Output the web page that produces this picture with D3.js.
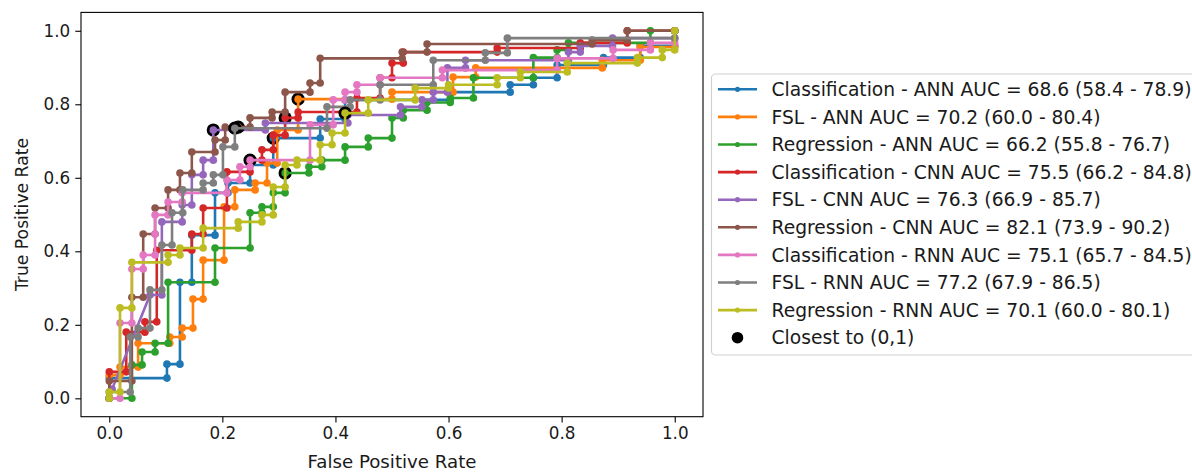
<!DOCTYPE html>
<html>
<head>
<meta charset="utf-8">
<script src="https://cdn.jsdelivr.net/npm/d3@7"></script>
<style>
  html, body { margin: 0; padding: 0; background: #fff; }
  svg { display: block; font-family: "DejaVu Sans", sans-serif; }
</style>
</head>
<body>
<svg id="chart" width="1192" height="472"></svg>
<script>
// ---------- data ----------
const seriesNames = [
  "Classification - ANN AUC = 68.6 (58.4 - 78.9)",
  "FSL - ANN AUC = 70.2 (60.0 - 80.4)",
  "Regression - ANN AUC = 66.2 (55.8 - 76.7)",
  "Classification - CNN AUC = 75.5 (66.2 - 84.8)",
  "FSL - CNN AUC = 76.3 (66.9 - 85.7)",
  "Regression - CNN AUC = 82.1 (73.9 - 90.2)",
  "Classification - RNN AUC = 75.1 (65.7 - 84.5)",
  "FSL - RNN AUC = 77.2 (67.9 - 86.5)",
  "Regression - RNN AUC = 70.1 (60.0 - 80.1)"
];
const closestLabel = "Closest to (0,1)";
const colors = ["#1f77b4","#ff7f0e","#2ca02c","#d62728","#9467bd","#8c564b","#e377c2","#7f7f7f","#bcbd22"];
const xTicks = [0, 0.2, 0.4, 0.6, 0.8, 1.0];
const yTicks = [0, 0.2, 0.4, 0.6, 0.8, 1.0];

const fprClsAnn = [0,0,0.102,0.102,0.125,0.125,0.146,0.146,0.187,0.187,0.21,0.21,0.249,0.249,0.29,0.29,0.373,0.373,0.417,0.417,0.603,0.603,0.709,0.709,0.75,0.75,0.792,0.792,0.874,0.874,0.939,0.939,1,1];
const tprClsAnn = [0,0.055,0.055,0.093,0.093,0.316,0.316,0.444,0.444,0.559,0.559,0.586,0.586,0.635,0.635,0.708,0.708,0.76,0.76,0.812,0.812,0.833,0.833,0.853,0.853,0.872,0.872,0.907,0.907,0.927,0.927,0.959,0.959,1];

const fprFslAnn = [0,0,0.019,0.019,0.051,0.051,0.107,0.107,0.129,0.129,0.148,0.148,0.166,0.166,0.203,0.203,0.222,0.222,0.258,0.258,0.279,0.279,0.297,0.297,0.334,0.334,0.5,0.5,0.608,0.608,0.648,0.648,0.872,0.872,0.939,0.939,1,1];
const tprFslAnn = [0,0.063,0.063,0.085,0.085,0.15,0.15,0.167,0.167,0.191,0.191,0.27,0.27,0.376,0.376,0.521,0.521,0.567,0.567,0.586,0.586,0.64,0.64,0.73,0.73,0.814,0.814,0.833,0.833,0.874,0.874,0.899,0.899,0.92,0.92,0.956,0.956,1];

const fprRegAnn = [0,0.04,0.04,0.058,0.058,0.081,0.081,0.104,0.104,0.187,0.187,0.249,0.249,0.27,0.27,0.29,0.29,0.311,0.311,0.353,0.353,0.376,0.376,0.417,0.417,0.458,0.458,0.5,0.5,0.52,0.52,0.562,0.562,0.603,0.603,0.644,0.644,0.75,0.75,0.792,0.792,0.812,0.812,0.957,0.957,1];
const tprRegAnn = [0,0,0.091,0.091,0.126,0.126,0.15,0.15,0.316,0.316,0.409,0.409,0.505,0.505,0.521,0.521,0.559,0.559,0.613,0.613,0.63,0.63,0.648,0.648,0.684,0.684,0.708,0.708,0.763,0.763,0.784,0.784,0.805,0.805,0.817,0.817,0.872,0.872,0.927,0.927,0.948,0.948,0.967,0.967,1,1];

const fprClsCnn = [0,0,0.03,0.03,0.063,0.063,0.084,0.084,0.146,0.146,0.166,0.166,0.208,0.208,0.249,0.249,0.27,0.27,0.29,0.29,0.311,0.311,0.334,0.334,0.438,0.438,0.479,0.479,0.5,0.5,0.52,0.52,0.686,0.686,0.833,0.833,0.916,0.916,1];
const tprClsCnn = [0,0.072,0.072,0.18,0.18,0.208,0.208,0.403,0.403,0.447,0.447,0.518,0.518,0.616,0.616,0.648,0.648,0.676,0.676,0.716,0.716,0.763,0.763,0.779,0.779,0.817,0.817,0.872,0.872,0.912,0.912,0.942,0.942,0.953,0.953,0.967,0.967,1,1];

const fprFslCnn = [0,0.005,0.072,0.093,0.093,0.129,0.129,0.146,0.146,0.166,0.166,0.184,0.184,0.276,0.276,0.422,0.422,0.515,0.515,0.553,0.553,0.573,0.573,0.598,0.598,0.63,0.63,0.812,0.812,0.833,0.833,0.89,0.89,1,1];
const tprFslCnn = [0,0.025,0.281,0.281,0.48,0.48,0.526,0.526,0.608,0.608,0.648,0.648,0.73,0.73,0.749,0.749,0.771,0.771,0.793,0.793,0.812,0.812,0.833,0.833,0.899,0.899,0.92,0.92,0.942,0.942,0.959,0.959,0.98,0.98,1];

const fprRegCnn = [0,0,0.04,0.04,0.06,0.06,0.081,0.081,0.104,0.104,0.125,0.125,0.146,0.146,0.187,0.187,0.205,0.205,0.228,0.249,0.249,0.288,0.288,0.311,0.311,0.355,0.355,0.373,0.373,0.518,0.518,0.562,0.562,0.854,0.854,0.916,0.916,1];
const tprRegCnn = [0,0.047,0.047,0.275,0.275,0.447,0.447,0.518,0.518,0.567,0.567,0.613,0.613,0.67,0.67,0.703,0.703,0.738,0.738,0.738,0.763,0.763,0.779,0.779,0.833,0.833,0.858,0.858,0.925,0.925,0.942,0.942,0.964,0.964,0.975,0.975,1,1];

const fprClsRnn = [0,0.019,0.019,0.04,0.04,0.06,0.06,0.081,0.081,0.081,0.104,0.104,0.129,0.129,0.208,0.208,0.231,0.231,0.249,0.249,0.355,0.355,0.396,0.396,0.417,0.417,0.438,0.438,0.479,0.479,0.589,0.589,0.792,0.792,0.891,0.891,0.957,0.957,1,1];
const tprClsRnn = [0,0,0.205,0.205,0.352,0.352,0.39,0.39,0.447,0.499,0.499,0.534,0.534,0.559,0.559,0.594,0.594,0.63,0.63,0.648,0.648,0.744,0.744,0.812,0.812,0.833,0.833,0.853,0.853,0.872,0.872,0.893,0.893,0.925,0.925,0.948,0.948,0.967,0.967,1];

const fprFslRnn = [0,0,0.037,0.037,0.051,0.051,0.072,0.072,0.093,0.093,0.111,0.111,0.13,0.13,0.166,0.166,0.184,0.184,0.201,0.201,0.222,0.222,0.385,0.385,0.426,0.426,0.479,0.479,0.573,0.573,0.665,0.665,0.704,0.704,1,1];
const tprFslRnn = [0,0.017,0.017,0.167,0.167,0.191,0.191,0.295,0.295,0.417,0.417,0.505,0.505,0.567,0.567,0.586,0.586,0.608,0.608,0.684,0.684,0.735,0.735,0.793,0.793,0.812,0.812,0.853,0.853,0.92,0.92,0.94,0.94,0.98,0.98,1];

const fprRegRnn = [0,0,0.019,0.019,0.04,0.04,0.104,0.104,0.125,0.125,0.166,0.166,0.228,0.228,0.27,0.27,0.29,0.29,0.311,0.311,0.332,0.332,0.373,0.373,0.394,0.394,0.417,0.417,0.458,0.458,0.541,0.541,0.6,0.6,0.686,0.686,0.727,0.727,0.81,0.81,0.934,0.934,0.978,0.978,1,1];
const tprRegRnn = [0,0.017,0.017,0.246,0.246,0.37,0.37,0.39,0.39,0.409,0.409,0.463,0.463,0.48,0.48,0.499,0.499,0.575,0.575,0.635,0.635,0.648,0.648,0.69,0.69,0.722,0.722,0.776,0.776,0.812,0.812,0.844,0.844,0.853,0.853,0.872,0.872,0.888,0.888,0.912,0.912,0.927,0.927,0.948,0.948,1];

const fprLists = [fprClsAnn, fprFslAnn, fprRegAnn, fprClsCnn, fprFslCnn, fprRegCnn, fprClsRnn, fprFslRnn, fprRegRnn];
const tprLists = [tprClsAnn, tprFslAnn, tprRegAnn, tprClsCnn, tprFslCnn, tprRegCnn, tprClsRnn, tprFslRnn, tprRegRnn];
// closest-to-(0,1) points (fpr, tpr) per series
const closestFpr = [0.29, 0.334, 0.311, 0.311, 0.184, 0.228, 0.249, 0.222, 0.417];
const closestTpr = [0.708, 0.814, 0.613, 0.763, 0.73, 0.738, 0.648, 0.735, 0.776];

// ---------- layout ----------
const svg = d3.select("#chart");
const plot = { left: 81, right: 703, top: 12.4, bottom: 416.7 };
const x = d3.scaleLinear().domain([-0.05, 1.05]).range([plot.left, plot.right]);
const y = d3.scaleLinear().domain([-0.05, 1.05]).range([plot.bottom, plot.top]);
const FS_TICK = 16.8, FS_XLAB = 18.2, FS_YLAB = 17.2, FS_LEG = 18.7;

const clipId = "plotclip";
svg.append("defs").append("clipPath").attr("id", clipId)
  .append("rect").attr("x", plot.left).attr("y", plot.top)
  .attr("width", plot.right - plot.left).attr("height", plot.bottom - plot.top);

const g = svg.append("g").attr("clip-path", `url(#${clipId})`);
const line = d3.line().x(d => x(d[0])).y(d => y(d[1]));

seriesNames.forEach((name, i) => {
  const pts = fprLists[i].map((f, k) => [f, tprLists[i][k]]);
  const sg = g.append("g");
  sg.append("circle")
    .attr("cx", x(closestFpr[i])).attr("cy", y(closestTpr[i]))
    .attr("r", 6.6).attr("fill", "#000");
  sg.append("path").datum(pts)
    .attr("d", line).attr("fill", "none")
    .attr("stroke", colors[i]).attr("stroke-width", 2.6)
    .attr("stroke-linejoin", "round").attr("stroke-linecap", "butt");
  sg.selectAll("circle.m").data(pts).enter().append("circle")
    .attr("class", "m")
    .attr("cx", d => x(d[0])).attr("cy", d => y(d[1]))
    .attr("r", 3.8).attr("fill", colors[i]);
});

// axes
const xAxis = d3.axisBottom(x).tickValues(xTicks).tickFormat(d3.format(".1f")).tickSize(5.7).tickPadding(5);
const yAxis = d3.axisLeft(y).tickValues(yTicks).tickFormat(d3.format(".1f")).tickSize(5.7).tickPadding(5);
const gx = svg.append("g").attr("transform", `translate(0,${plot.bottom})`).call(xAxis);
const gy = svg.append("g").attr("transform", `translate(${plot.left},0)`).call(yAxis);
[gx, gy].forEach(a => {
  a.select(".domain").remove();
  a.selectAll(".tick line").attr("stroke", "#000").attr("stroke-width", 1.1);
  a.selectAll(".tick text").attr("fill", "#1a1a1a").style("font-size", FS_TICK + "px")
    .style("font-family", "'DejaVu Sans', sans-serif");
});

svg.append("rect")
  .attr("x", plot.left).attr("y", plot.top)
  .attr("width", plot.right - plot.left).attr("height", plot.bottom - plot.top)
  .attr("fill", "none").attr("stroke", "#000").attr("stroke-width", 1.1);

svg.append("text")
  .attr("x", (plot.left + plot.right) / 2).attr("y", 468)
  .attr("text-anchor", "middle").attr("fill", "#1a1a1a")
  .style("font-size", FS_XLAB + "px").text("False Positive Rate");
svg.append("text")
  .attr("transform", `translate(28,${(plot.top + plot.bottom) / 2}) rotate(-90)`)
  .attr("text-anchor", "middle").attr("fill", "#1a1a1a")
  .style("font-size", FS_YLAB + "px").text("True Positive Rate");

// legend
const leg = svg.append("g");
leg.append("rect")
  .attr("x", 711.5).attr("y", 74).attr("width", 520).attr("height", 281)
  .attr("rx", 4).attr("fill", "#fff").attr("stroke", "#d0d0d0").attr("stroke-width", 1.1);
const rowY0 = 89.3, rowStep = 27.6;
seriesNames.forEach((name, i) => {
  const yy = rowY0 + i * rowStep;
  leg.append("line").attr("x1", 718).attr("x2", 757).attr("y1", yy).attr("y2", yy)
    .attr("stroke", colors[i]).attr("stroke-width", 2.6);
  leg.append("circle").attr("cx", 737.5).attr("cy", yy).attr("r", 2.6).attr("fill", colors[i]);
  leg.append("text").attr("x", 771.5).attr("y", yy).attr("dy", "0.36em")
    .attr("fill", "#1a1a1a").style("font-size", FS_LEG + "px").text(name);
});
const yc = rowY0 + 9 * rowStep;
leg.append("circle").attr("cx", 737.5).attr("cy", yc).attr("r", 5.8).attr("fill", "#000");
leg.append("text").attr("x", 771.5).attr("y", yc).attr("dy", "0.36em")
  .attr("fill", "#1a1a1a").style("font-size", FS_LEG + "px").text(closestLabel);
</script>
</body>
</html>
